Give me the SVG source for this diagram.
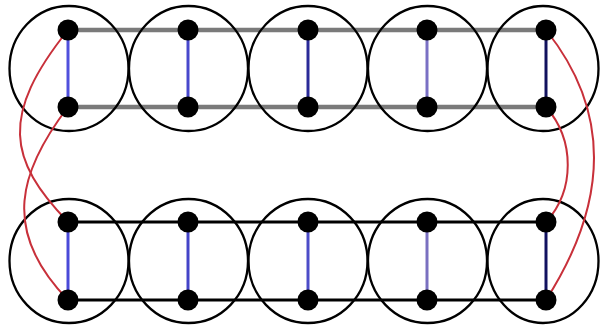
<svg xmlns="http://www.w3.org/2000/svg" width="601" height="328" viewBox="0 0 601 328">
  <style>
    .cl { fill: none; stroke: #000; stroke-width: 2.3; }
    .nd { fill: #000; }
    .gr { stroke: #7a7a7a; stroke-width: 4.5; fill: none; }
    .bk { stroke: #000; stroke-width: 3; fill: none; }
    .bl { stroke-width: 3; fill: none; }
    .rd { stroke: #c8303a; stroke-width: 2; fill: none; }
  </style>
  <rect width="601" height="328" fill="#fff"/>
  <g id="connectors">
    <line class="gr" x1="68" y1="30" x2="546" y2="30"/>
    <line class="gr" x1="68" y1="107" x2="546" y2="107"/>
    <line class="bk" x1="68" y1="222" x2="546" y2="222"/>
    <line class="bk" x1="68" y1="300" x2="546" y2="300"/>
    <line class="bl" stroke="#5050dc" x1="68" y1="30" x2="68" y2="107"/>
    <line class="bl" stroke="#4848cc" x1="188" y1="30" x2="188" y2="107"/>
    <line class="bl" stroke="#2a2a98" x1="308" y1="30" x2="308" y2="107"/>
    <line class="bl" stroke="#7a70c4" x1="427" y1="30" x2="427" y2="107"/>
    <line class="bl" stroke="#12125e" x1="546" y1="30" x2="546" y2="107"/>
    <line class="bl" stroke="#4a4ad8" x1="68" y1="222" x2="68" y2="300"/>
    <line class="bl" stroke="#4444c8" x1="188" y1="222" x2="188" y2="300"/>
    <line class="bl" stroke="#4c4cc8" x1="308" y1="222" x2="308" y2="300"/>
    <line class="bl" stroke="#7a70c0" x1="427" y1="222" x2="427" y2="300"/>
    <line class="bl" stroke="#121260" x1="546" y1="222" x2="546" y2="300"/>
  </g>
  <g id="clusters">
    <ellipse id="c1" class="cl" cx="69" cy="68.5" rx="59.5" ry="62.5"/>
    <ellipse id="c2" class="cl" cx="188.5" cy="68.5" rx="59.5" ry="62.5"/>
    <ellipse id="c3" class="cl" cx="308" cy="68.5" rx="59.5" ry="62.5"/>
    <ellipse id="c4" class="cl" cx="427.5" cy="68.5" rx="59.5" ry="62.5"/>
    <ellipse id="c5" class="cl" cx="543" cy="68.5" rx="55.5" ry="62.5"/>
    <ellipse id="c6" class="cl" cx="69" cy="261" rx="59.5" ry="62"/>
    <ellipse id="c7" class="cl" cx="188.5" cy="261" rx="59.5" ry="62"/>
    <ellipse id="c8" class="cl" cx="308" cy="261" rx="59.5" ry="62"/>
    <ellipse id="c9" class="cl" cx="427.5" cy="261" rx="59.5" ry="62"/>
    <ellipse id="c10" class="cl" cx="543" cy="261" rx="55.5" ry="62"/>
  </g>
  <g id="red-connectors">
    <path class="rd" d="M68,30 C0,115 8,160 68,222"/>
    <path class="rd" d="M68,107 C20,170 0,230 68,300"/>
    <path class="rd" d="M546,30 C610,110 610,200 546,300"/>
    <path class="rd" d="M546,107 C575,140 575,190 546,222"/>
  </g>
  <g id="n1"><circle class="nd" cx="68" cy="30" r="10.5"/></g>
  <g id="n2"><circle class="nd" cx="68" cy="107" r="10.5"/></g>
  <g id="n3"><circle class="nd" cx="188" cy="30" r="10.5"/></g>
  <g id="n4"><circle class="nd" cx="188" cy="107" r="10.5"/></g>
  <g id="n5"><circle class="nd" cx="308" cy="30" r="10.5"/></g>
  <g id="n6"><circle class="nd" cx="308" cy="107" r="10.5"/></g>
  <g id="n7"><circle class="nd" cx="427" cy="30" r="10.5"/></g>
  <g id="n8"><circle class="nd" cx="427" cy="107" r="10.5"/></g>
  <g id="n9"><circle class="nd" cx="546" cy="30" r="10.5"/></g>
  <g id="n10"><circle class="nd" cx="546" cy="107" r="10.5"/></g>
  <g id="n11"><circle class="nd" cx="68" cy="222" r="10.5"/></g>
  <g id="n12"><circle class="nd" cx="68" cy="300" r="10.5"/></g>
  <g id="n13"><circle class="nd" cx="188" cy="222" r="10.5"/></g>
  <g id="n14"><circle class="nd" cx="188" cy="300" r="10.5"/></g>
  <g id="n15"><circle class="nd" cx="308" cy="222" r="10.5"/></g>
  <g id="n16"><circle class="nd" cx="308" cy="300" r="10.5"/></g>
  <g id="n17"><circle class="nd" cx="427" cy="222" r="10.5"/></g>
  <g id="n18"><circle class="nd" cx="427" cy="300" r="10.5"/></g>
  <g id="n19"><circle class="nd" cx="546" cy="222" r="10.5"/></g>
  <g id="n20"><circle class="nd" cx="546" cy="300" r="10.5"/></g>
</svg>
